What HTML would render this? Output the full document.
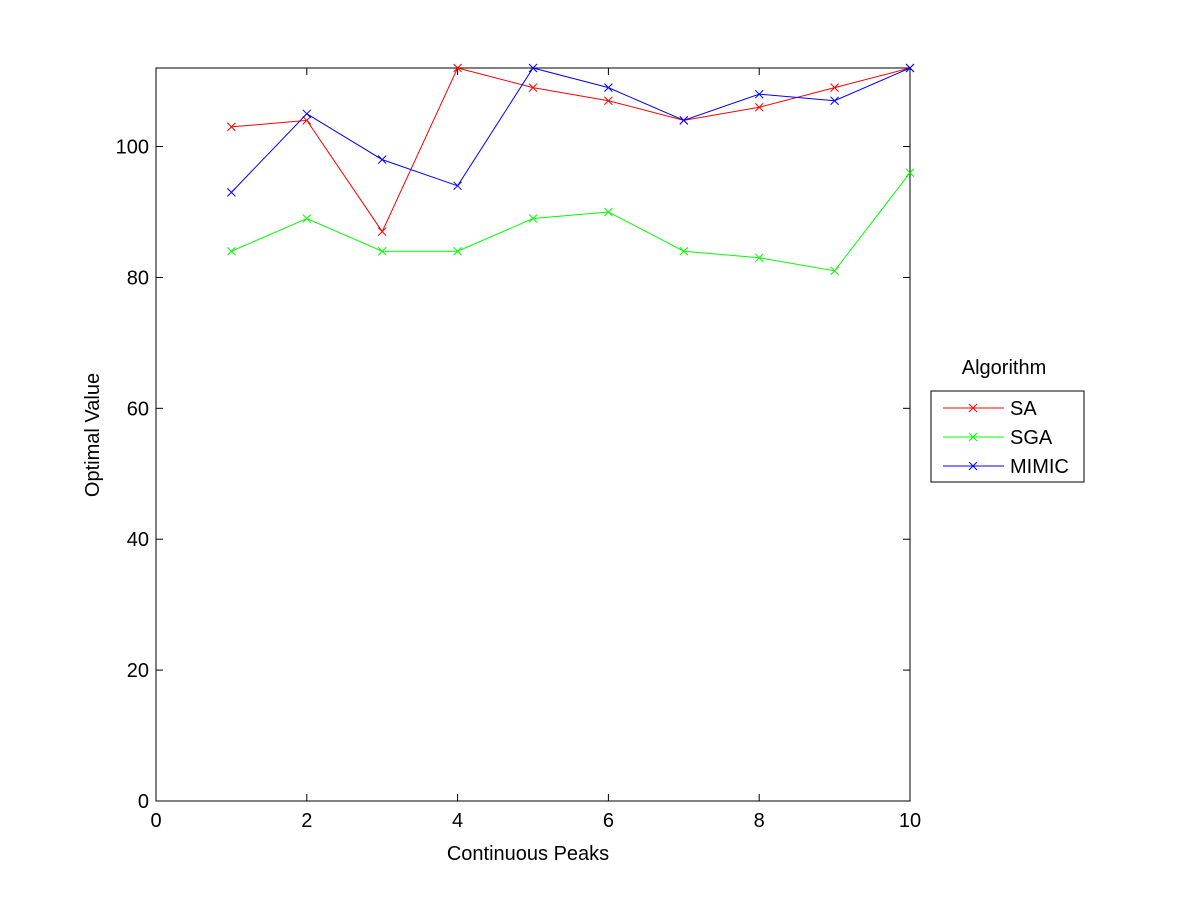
<!DOCTYPE html>
<html><head><meta charset="utf-8"><style>
html,body{margin:0;padding:0;background:#fff;}
svg{display:block;font-family:"Liberation Sans",sans-serif;}
</style></head><body>
<svg id="chart" width="1201" height="901">
<rect x="0" y="0" width="1201" height="901" fill="#fff"/>
<rect x="156" y="68" width="754" height="733" fill="#fff" stroke="#000" stroke-width="1"/>
<g id="axes"></g>
<g id="series"></g>
<text x="528" y="860" text-anchor="middle" font-size="20">Continuous Peaks</text>
<text transform="translate(99,435) rotate(-90)" text-anchor="middle" font-size="20">Optimal Value</text>
<text x="1004" y="374" text-anchor="middle" font-size="20">Algorithm</text>
<rect x="931" y="391" width="153" height="91" fill="#fff" stroke="#000"/>
<g id="legend"></g>
</svg>
<script>
const categories=[1,2,3,4,5,6,7,8,9,10];
const saValues=[103,104,87,112,109,107,104,106,109,112];
const sgaValues=[84,89,84,84,89,90,84,83,81,96];
const mimicValues=[93,105,98,94,112,109,104,108,107,112];
const seriesNames=["SA","SGA","MIMIC"];
const xTicks=[0,2,4,6,8,10];
const yTicks=[0,20,40,60,80,100];
const NS="http://www.w3.org/2000/svg";
const X0=156,X1=910,Y0=801,Y1=68,XMAX=10,YMAX=112;
function xs(v){return X0+(X1-X0)*v/XMAX;}
function ys(v){return Y0-(Y0-Y1)*v/YMAX;}
function mk(t,a,p){const e=document.createElementNS(NS,t);for(const k in a)e.setAttribute(k,a[k]);p.appendChild(e);return e;}
const ax=document.getElementById('axes');
xTicks.forEach(v=>{const x=xs(v);
 const t1=mk('line',{x1:x,y1:Y0,x2:x,y2:Y0-7,stroke:'#000'},ax);
 
 
 const t2=mk('line',{x1:x,y1:Y1,x2:x,y2:Y1+7,stroke:'#000'},ax);
 
 
 const l=mk('text',{x:x,y:Y0+26,'text-anchor':'middle','font-size':20},ax);l.textContent=v;
 
 
});
yTicks.forEach(v=>{const y=ys(v);
 const t1=mk('line',{x1:X0,y1:y,x2:X0+7,y2:y,stroke:'#000'},ax);
 
 
 const t2=mk('line',{x1:X1,y1:y,x2:X1-7,y2:y,stroke:'#000'},ax);
 
 
 const l=mk('text',{x:X0-7,y:y+7,'text-anchor':'end','font-size':20},ax);l.textContent=v;
 
 
});
const colors=["#ff0000","#00ff00","#0000ff"];
const all=[saValues,sgaValues,mimicValues];
const sg=document.getElementById('series');
function cross(g,x,y,c){mk('path',{d:`M${x-4},${y-4}L${x+4},${y+4}M${x-4},${y+4}L${x+4},${y-4}`,stroke:c,fill:'none'},g);}
all.forEach((vals,i)=>{
 const g=mk('g',{},sg);
 
 
 const pts=vals.map((v,j)=>xs(categories[j])+','+ys(v)).join(' ');
 const pl=mk('polyline',{points:pts,fill:'none',stroke:colors[i]},g);
 
 
 vals.forEach((v,j)=>cross(g,xs(categories[j]),ys(v),colors[i]));
});
const lg=document.getElementById('legend');
seriesNames.forEach((n,i)=>{const y=408+i*29;
 const g=mk('g',{},lg);
 
 
 mk('line',{x1:943,y1:y,x2:1004,y2:y,stroke:colors[i]},g);
 cross(g,973,y,colors[i]);
 const t=mk('text',{x:1010,y:y+7,'font-size':20},g);t.textContent=n;
});
</script>
</body></html>
